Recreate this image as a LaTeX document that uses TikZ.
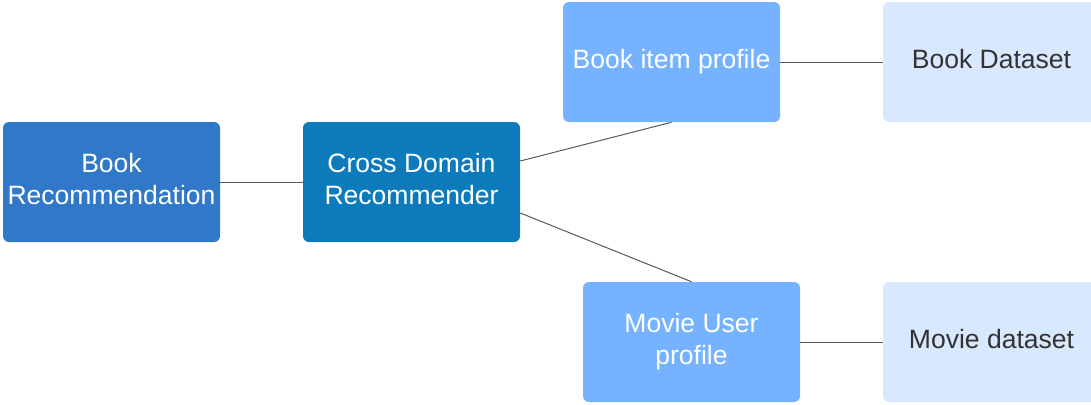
\documentclass[tikz,border=0pt]{standalone}
\usepackage{fontspec}
\setmainfont{Liberation Sans}
\usepackage{tikz}

\definecolor{cRec}{HTML}{3178C8}
\definecolor{cCross}{HTML}{0D7BBB}
\definecolor{cProfile}{HTML}{75B2FF}
\definecolor{cData}{HTML}{D8E8FF}
\definecolor{cLine}{HTML}{595959}
\definecolor{cText}{HTML}{333333}

% lift the text a little, lines centred
\newcommand{\boxtext}[1]{\raisebox{3pt}{\begin{tabular}{@{}c@{}}#1\end{tabular}}}

\tikzset{
	box/.style={rounded corners=4.5pt, minimum width=162.75pt, minimum height=90pt, inner sep=0pt, font=\fontsize{19.9}{24}\selectfont},
	recbox/.style={box, fill=cRec, text=white},
	crossbox/.style={box, fill=cCross, text=white},
	profbox/.style={box, fill=cProfile, text=white},
	databox/.style={box, fill=cData, text=cText},
	link/.style={draw=cLine, line width=0.75pt}
}

\begin{document}
\begin{tikzpicture}[x=0.75pt,y=0.75pt,yscale=-1,xscale=1]
	%set diagram area: 1091 wide, 404 high
	\useasboundingbox (0,0) rectangle (1091,404);
	
	%Shape: Rectangle [book recommendation]
	\node [recbox] (bookrec) at (111.5,182) {\boxtext{Book\\Recommendation}};
	%Shape: Rectangle [cross domain]
	\node [crossbox] (cross) at (411.5,182) {\boxtext{Cross Domain\\Recommender}};
	%Shape: Rectangle [book item profile]
	\node [profbox] (bookitem) at (671.5,62) {\boxtext{Book item profile}};
	%Shape: Rectangle [movie user profile]
	\node [profbox] (movieuser) at (691.5,342) {\boxtext{Movie User\\profile}};
	%Shape: Rectangle [book dataset]
	\node [databox] (bookdata) at (991.5,62) {\boxtext{Book Dataset}};
	%Shape: Rectangle [movie dataset]
	\node [databox] (moviedata) at (991.5,342) {\boxtext{Movie dataset}};
	
	%Straight Lines
	\draw [link] (bookrec.east) -- (cross.west) ;
	%Straight Lines
	\draw [link] ([yshift=-15.75pt]cross.east) -- (bookitem.south) ;
	%Straight Lines
	\draw [link] ([yshift=23.25pt]cross.east) -- (movieuser.north) ;
	%Straight Lines
	\draw [link] (bookitem.east) -- (bookdata.west) ;
	%Straight Lines
	\draw [link] (movieuser.east) -- (moviedata.west) ;
	
\end{tikzpicture}
\end{document}
